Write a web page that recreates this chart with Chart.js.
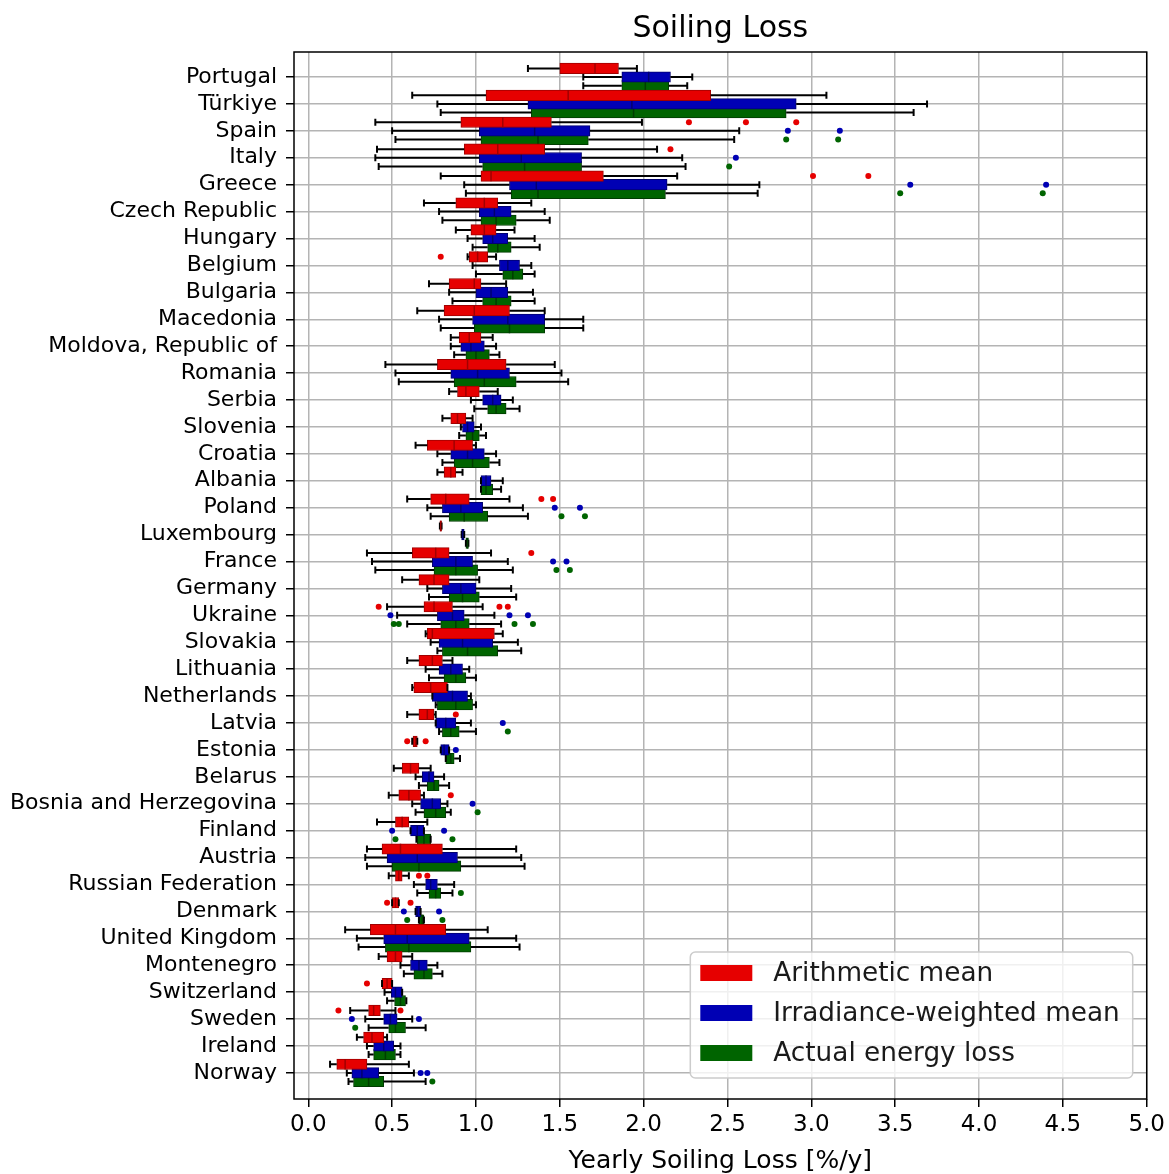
<!DOCTYPE html>
<html lang="en">
<head>
<meta charset="utf-8">
<title>Soiling Loss</title>
<script src="https://cdn.jsdelivr.net/npm/chart.js@4.4.1/dist/chart.umd.min.js"></script>
<style>
  html, body { margin: 0; padding: 0; background: #fff; }
  #wrap { width: 1169px; height: 1174px; }
</style>
</head>
<body>
<div id="wrap"><canvas id="chart" width="1169" height="1174"></canvas></div>
<script>
// countries, top to bottom
const countries = ['Portugal', 'Türkiye', 'Spain', 'Italy', 'Greece', 'Czech Republic', 'Hungary', 'Belgium',
  'Bulgaria', 'Macedonia', 'Moldova, Republic of', 'Romania', 'Serbia', 'Slovenia', 'Croatia', 'Albania',
  'Poland', 'Luxembourg', 'France', 'Germany', 'Ukraine', 'Slovakia', 'Lithuania', 'Netherlands', 'Latvia',
  'Estonia', 'Belarus', 'Bosnia and Herzegovina', 'Finland', 'Austria', 'Russian Federation', 'Denmark',
  'United Kingdom', 'Montenegro', 'Switzerland', 'Sweden', 'Ireland', 'Norway'];

// [whisker low, Q1, median, Q3, whisker high] per country
const arithStats = [
  [1.31, 1.50, 1.71, 1.85, 1.96], [0.62, 1.06, 1.55, 2.40, 3.09], [0.40, 0.91, 1.16, 1.45, 1.99],
  [0.41, 0.93, 1.13, 1.41, 2.08], [0.79, 1.03, 1.09, 1.76, 2.20], [0.69, 0.88, 1.05, 1.13, 1.33],
  [0.88, 0.97, 1.05, 1.12, 1.23], [0.95, 0.96, 1.01, 1.07, 1.12], [0.72, 0.84, 0.99, 1.03, 1.18],
  [0.65, 0.81, 0.99, 1.20, 1.41], [0.85, 0.90, 0.96, 1.03, 1.10], [0.46, 0.77, 0.95, 1.18, 1.47],
  [0.84, 0.89, 0.94, 1.02, 1.13], [0.80, 0.85, 0.89, 0.94, 0.98], [0.64, 0.71, 0.87, 0.98, 1.00],
  [0.77, 0.81, 0.85, 0.88, 0.92], [0.59, 0.73, 0.82, 0.96, 1.20], [0.785, 0.785, 0.79, 0.795, 0.795],
  [0.35, 0.62, 0.76, 0.84, 1.09], [0.56, 0.66, 0.75, 0.84, 1.02], [0.47, 0.69, 0.75, 0.86, 1.04],
  [0.70, 0.71, 0.74, 1.11, 1.16], [0.59, 0.66, 0.74, 0.80, 0.86], [0.62, 0.63, 0.73, 0.83, 0.83],
  [0.59, 0.66, 0.71, 0.75, 0.76], [0.62, 0.625, 0.64, 0.65, 0.65], [0.51, 0.56, 0.61, 0.66, 0.73],
  [0.48, 0.54, 0.60, 0.67, 0.69], [0.41, 0.52, 0.56, 0.60, 0.71], [0.35, 0.44, 0.55, 0.80, 1.24],
  [0.48, 0.52, 0.54, 0.56, 0.60], [0.50, 0.50, 0.52, 0.54, 0.54], [0.22, 0.37, 0.52, 0.82, 1.07],
  [0.42, 0.47, 0.52, 0.56, 0.62], [0.44, 0.44, 0.47, 0.50, 0.50], [0.25, 0.36, 0.39, 0.43, 0.52],
  [0.29, 0.33, 0.38, 0.45, 0.47], [0.13, 0.17, 0.22, 0.35, 0.60]
];
const irradStats = [
  [1.64, 1.87, 2.03, 2.16, 2.29], [0.77, 1.31, 1.93, 2.91, 3.69], [0.50, 1.02, 1.35, 1.68, 2.57],
  [0.40, 1.02, 1.27, 1.63, 2.23], [0.93, 1.20, 1.36, 2.14, 2.69], [0.78, 1.02, 1.11, 1.21, 1.41],
  [0.95, 1.04, 1.10, 1.19, 1.35], [0.98, 1.14, 1.19, 1.26, 1.33], [0.84, 1.00, 1.09, 1.19, 1.34],
  [0.78, 0.98, 1.19, 1.41, 1.64], [0.85, 0.91, 0.97, 1.05, 1.12], [0.52, 0.85, 1.01, 1.20, 1.51],
  [0.97, 1.04, 1.10, 1.15, 1.22], [0.91, 0.92, 0.95, 0.99, 1.03], [0.77, 0.85, 0.95, 1.05, 1.12],
  [1.03, 1.03, 1.06, 1.09, 1.16], [0.71, 0.80, 0.91, 1.04, 1.28], [0.915, 0.915, 0.92, 0.93, 0.93],
  [0.38, 0.74, 0.88, 0.98, 1.19], [0.71, 0.80, 0.91, 1.00, 1.21], [0.53, 0.77, 0.86, 0.93, 1.11],
  [0.73, 0.78, 0.92, 1.10, 1.25], [0.70, 0.78, 0.85, 0.92, 0.96], [0.74, 0.74, 0.86, 0.95, 0.97],
  [0.76, 0.76, 0.82, 0.88, 0.97], [0.79, 0.79, 0.81, 0.84, 0.84], [0.64, 0.68, 0.72, 0.75, 0.81],
  [0.62, 0.67, 0.74, 0.79, 0.83], [0.61, 0.61, 0.65, 0.69, 0.69], [0.34, 0.47, 0.65, 0.89, 1.27],
  [0.63, 0.70, 0.73, 0.77, 0.87], [0.64, 0.64, 0.65, 0.67, 0.67], [0.29, 0.45, 0.59, 0.96, 1.24],
  [0.55, 0.61, 0.66, 0.71, 0.77], [0.455, 0.495, 0.52, 0.56, 0.56], [0.34, 0.45, 0.49, 0.53, 0.62],
  [0.35, 0.39, 0.45, 0.51, 0.55], [0.23, 0.26, 0.32, 0.42, 0.63]
];
const energyStats = [
  [1.64, 1.87, 2.01, 2.15, 2.26], [0.79, 1.33, 1.94, 2.85, 3.61], [0.52, 1.03, 1.37, 1.67, 2.54],
  [0.42, 1.04, 1.29, 1.63, 2.25], [0.94, 1.21, 1.37, 2.13, 2.68], [0.80, 1.03, 1.12, 1.24, 1.44],
  [0.98, 1.07, 1.13, 1.21, 1.38], [1.00, 1.16, 1.22, 1.28, 1.35], [0.86, 1.04, 1.12, 1.21, 1.35],
  [0.79, 0.99, 1.20, 1.41, 1.64], [0.87, 0.94, 1.00, 1.08, 1.14], [0.54, 0.87, 1.05, 1.24, 1.55],
  [0.99, 1.07, 1.12, 1.18, 1.26], [0.90, 0.94, 0.98, 1.02, 1.06], [0.80, 0.87, 0.98, 1.08, 1.14],
  [1.03, 1.03, 1.06, 1.10, 1.15], [0.73, 0.84, 0.93, 1.07, 1.31], [0.94, 0.94, 0.95, 0.955, 0.955],
  [0.40, 0.75, 0.88, 1.01, 1.22], [0.72, 0.84, 0.92, 1.02, 1.24], [0.59, 0.79, 0.88, 0.96, 1.15],
  [0.77, 0.80, 0.95, 1.13, 1.27], [0.72, 0.81, 0.88, 0.94, 1.00], [0.76, 0.77, 0.88, 0.98, 1.00],
  [0.78, 0.80, 0.85, 0.90, 1.00], [0.82, 0.82, 0.85, 0.87, 0.905], [0.66, 0.71, 0.75, 0.78, 0.84],
  [0.64, 0.69, 0.76, 0.82, 0.85], [0.645, 0.65, 0.69, 0.73, 0.73], [0.35, 0.50, 0.66, 0.91, 1.29],
  [0.65, 0.72, 0.76, 0.79, 0.86], [0.66, 0.66, 0.68, 0.69, 0.69], [0.30, 0.46, 0.60, 0.97, 1.26],
  [0.57, 0.63, 0.69, 0.74, 0.80], [0.47, 0.515, 0.55, 0.58, 0.585], [0.36, 0.48, 0.52, 0.58, 0.70],
  [0.36, 0.39, 0.46, 0.52, 0.55], [0.24, 0.27, 0.36, 0.45, 0.70]
];

// outliers: [country, value]
const arithOutliers = [
  ['Spain', 2.27], ['Spain', 2.61], ['Spain', 2.91], ['Italy', 2.16], ['Greece', 3.01], ['Greece', 3.34],
  ['Belgium', 0.79], ['Poland', 1.39], ['Poland', 1.46], ['France', 1.33], ['Ukraine', 0.42],
  ['Ukraine', 1.14], ['Ukraine', 1.19], ['Latvia', 0.88], ['Estonia', 0.59], ['Estonia', 0.70],
  ['Bosnia and Herzegovina', 0.85], ['Russian Federation', 0.66], ['Russian Federation', 0.71],
  ['Denmark', 0.47], ['Denmark', 0.61], ['Switzerland', 0.35], ['Sweden', 0.18], ['Sweden', 0.55]
];
const irradOutliers = [
  ['Spain', 2.86], ['Spain', 3.17], ['Italy', 2.55], ['Greece', 3.59], ['Greece', 4.40],
  ['Poland', 1.47], ['Poland', 1.62], ['France', 1.46], ['France', 1.54], ['Ukraine', 0.49],
  ['Ukraine', 1.20], ['Ukraine', 1.31], ['Latvia', 1.16], ['Estonia', 0.88],
  ['Bosnia and Herzegovina', 0.98], ['Finland', 0.50], ['Finland', 0.81], ['Denmark', 0.57],
  ['Denmark', 0.78], ['Sweden', 0.26], ['Sweden', 0.66], ['Norway', 0.67], ['Norway', 0.71]
];
const energyOutliers = [
  ['Spain', 2.85], ['Spain', 3.16], ['Italy', 2.51], ['Greece', 3.53], ['Greece', 4.38],
  ['Poland', 1.51], ['Poland', 1.65], ['France', 1.48], ['France', 1.56], ['Ukraine', 0.51],
  ['Ukraine', 0.54], ['Ukraine', 1.23], ['Ukraine', 1.34], ['Latvia', 1.19],
  ['Bosnia and Herzegovina', 1.01], ['Finland', 0.52], ['Finland', 0.86], ['Russian Federation', 0.91],
  ['Denmark', 0.59], ['Denmark', 0.80], ['Sweden', 0.28], ['Norway', 0.74]
];

const xTicks = [0, 0.5, 1, 1.5, 2, 2.5, 3, 3.5, 4, 4.5, 5];

const series = [
  { label: 'Arithmetic mean', stats: arithStats, outliers: arithOutliers, offset: -0.32, color: '#e60000', edge: '#a00000' },
  { label: 'Irradiance-weighted mean', stats: irradStats, outliers: irradOutliers, offset: 0, color: '#0000b4', edge: '#000070' },
  { label: 'Actual energy loss', stats: energyStats, outliers: energyOutliers, offset: 0.32, color: '#006400', edge: '#003c00' }
];

const boxDatasets = series.map(s => ({
  type: 'bar',
  label: s.label,
  indexAxis: 'y',
  grouped: false,
  barThickness: 10.5,
  data: s.stats.map((st, i) => ({ x: [st[1], st[3]], y: i + s.offset, stat: st })),
  backgroundColor: s.color,
  borderColor: s.edge,
  borderWidth: 1,
  borderSkipped: false,
  edge: s.edge
}));

const outlierDatasets = series.map(s => ({
  type: 'scatter',
  label: s.label + ' (outliers)',
  data: s.outliers.map(([c, v]) => ({ x: v, y: countries.indexOf(c) + s.offset })),
  backgroundColor: s.color,
  borderColor: s.color,
  borderWidth: 0,
  pointRadius: 3,
  pointHoverRadius: 3,
  showLine: false
}));

// whiskers, caps and medians for each box dataset, drawn right after its boxes
const boxParts = {
  id: 'boxParts',
  afterDatasetDraw(chart, args) {
    const ds = chart.data.datasets[args.index];
    if (ds.type !== 'bar') return;
    const { ctx, chartArea, scales: { x, y } } = chart;
    ctx.save();
    ctx.beginPath();
    ctx.rect(chartArea.left, chartArea.top, chartArea.right - chartArea.left, chartArea.bottom - chartArea.top);
    ctx.clip();
    const half = 10.5 / 2;
    ds.data.forEach(d => {
      const [lo, q1, med, q3, hi] = d.stat;
      const py = y.getPixelForValue(d.y);
      ctx.strokeStyle = '#000';
      ctx.lineWidth = 2;
      ctx.beginPath();
      ctx.moveTo(x.getPixelForValue(lo), py);
      ctx.lineTo(x.getPixelForValue(q1), py);
      ctx.moveTo(x.getPixelForValue(q3), py);
      ctx.lineTo(x.getPixelForValue(hi), py);
      [lo, hi].forEach(v => {
        const px = x.getPixelForValue(v);
        ctx.moveTo(px, py - 3.5);
        ctx.lineTo(px, py + 3.5);
      });
      ctx.stroke();
      ctx.strokeStyle = ds.edge;
      ctx.lineWidth = 1.5;
      ctx.beginPath();
      const pm = x.getPixelForValue(med);
      ctx.moveTo(pm, py - half);
      ctx.lineTo(pm, py + half);
      ctx.stroke();
    });
    ctx.restore();
  }
};

const frame = {
  id: 'frame',
  afterDatasetsDraw(chart) {
    const { ctx, chartArea: a } = chart;
    ctx.save();
    ctx.strokeStyle = '#000';
    ctx.lineWidth = 1.5;
    ctx.strokeRect(a.left, a.top, a.right - a.left, a.bottom - a.top);
    ctx.restore();
  }
};

const legendBox = {
  id: 'legendBox',
  afterDraw(chart) {
    const { ctx, chartArea: a } = chart;
    ctx.save();
    ctx.font = '26.3px "DejaVu Sans"';
    const textW = Math.max(...series.map(s => ctx.measureText(s.label).width));
    const w = 10 + 52 + 21 + textW + 13, h = 126;
    const left = a.right - 14 - w, top = a.bottom - 21 - h;
    ctx.beginPath();
    ctx.roundRect(left, top, w, h, 5);
    ctx.fillStyle = 'rgba(255,255,255,0.8)';
    ctx.fill();
    ctx.strokeStyle = '#cccccc';
    ctx.lineWidth = 1.5;
    ctx.stroke();
    ctx.textBaseline = 'middle';
    ctx.textAlign = 'left';
    series.forEach((s, i) => {
      const cy = top + 21 + i * 40;
      ctx.fillStyle = s.color;
      ctx.fillRect(left + 10, cy - 8, 52, 16);
      ctx.fillStyle = '#1a1a1a';
      ctx.fillText(s.label, left + 83, cy + 1);
    });
    ctx.restore();
  }
};

Chart.defaults.font.family = '"DejaVu Sans", sans-serif';
Chart.defaults.color = '#000';

new Chart(document.getElementById('chart'), {
  type: 'bar',
  data: { datasets: [...boxDatasets, ...outlierDatasets] },
  options: {
    responsive: false,
    animation: false,
    events: [],
    indexAxis: 'y',
    layout: { padding: { left: 0, right: 19, top: 0, bottom: 0 }, autoPadding: false },
    plugins: {
      legend: { display: false },
      tooltip: { enabled: false },
      title: {
        display: true,
        text: 'Soiling Loss',
        fullSize: false,
        color: '#000',
        font: { size: 30, weight: 'normal', lineHeight: 1.2 },
        padding: { top: 11, bottom: 5 }
      }
    },
    scales: {
      x: {
        type: 'linear',
        position: 'bottom',
        min: -0.085,
        max: 5.0,
        afterBuildTicks: s => { s.ticks = xTicks.map(v => ({ value: v })); },
        ticks: { font: { size: 23 }, color: '#000', padding: 4, maxRotation: 0, autoSkip: false,
          callback: v => v.toFixed(1) },
        grid: { color: '#b4b4b4', lineWidth: 1.5, tickColor: '#000', tickLength: 8, tickWidth: 1.5 },
        border: { display: false },
        title: { display: true, text: 'Yearly Soiling Loss [%/y]', color: '#000',
          font: { size: 25, lineHeight: 1 }, padding: { top: 0, bottom: 0 } },
        afterFit: s => { s.height = 75; }
      },
      y: {
        type: 'linear',
        position: 'left',
        reverse: true,
        min: -0.93,
        max: 37.97,
        offset: false,
        afterBuildTicks: s => { s.ticks = countries.map((c, i) => ({ value: i })); },
        ticks: { font: { size: 22 }, color: '#000', padding: 9, autoSkip: false,
          callback: v => countries[v] },
        grid: { color: '#b4b4b4', lineWidth: 1.5, tickColor: '#000', tickLength: 8, tickWidth: 1.5, offset: false },
        border: { display: false },
        afterFit: s => { s.width = 294; }
      }
    }
  },
  plugins: [boxParts, frame, legendBox]
});
</script>
</body>
</html>
